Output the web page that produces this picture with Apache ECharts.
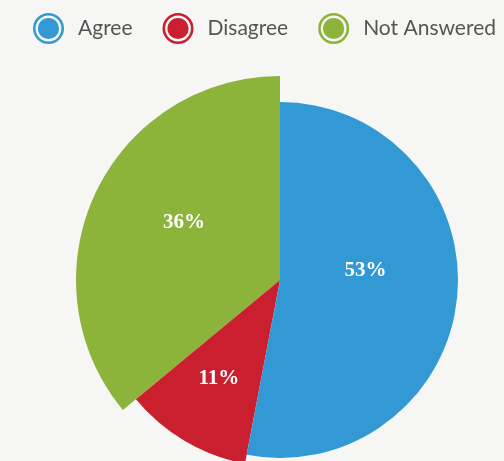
<!DOCTYPE html>
<html>
<head>
<meta charset="utf-8">
<script src="https://cdn.jsdelivr.net/npm/echarts@6/dist/echarts.min.js"></script>
<style>
html,body{margin:0;padding:0;background:#f6f6f4;}
#chart{width:504px;height:461px;}
</style>
</head>
<body>
<div id="chart"></div>
<script>
// Data
const categories = ['Agree', 'Disagree', 'Not Answered'];
const values = [53, 11, 36];

// Styling (not data)
const colors = ['#3399d4', '#c91f2f', '#8cb33a'];
const radii = [178, 187, 204];
const labelOffsets = [[-6, -18], [-12, 16], [-1, -13]];

const ringIcon = 'path://M0,12A12,12 0 1,1 24,12A12,12 0 1,1 0,12Z' +
  'M2,12A10,10 0 1,0 22,12A10,10 0 1,0 2,12Z' +
  'M3.8,12A8.2,8.2 0 1,1 20.2,12A8.2,8.2 0 1,1 3.8,12Z';

const series = categories.map(function (cat, si) {
  return {
    type: 'pie',
    center: [280, 280],
    radius: [0, radii[si]],
    startAngle: 90,
    clockwise: true,
    avoidLabelOverlap: false,
    animation: false,
    z: 2 + (categories.length - si),
    data: categories.map(function (name, i) {
      const own = i === si;
      return {
        name: name,
        value: values[i],
        itemStyle: { color: own ? colors[i] : 'rgba(0,0,0,0)', borderWidth: 0 },
        label: {
          show: own,
          position: 'inside',
          offset: labelOffsets[i],
          formatter: '{c}%',
          color: '#ffffff',
          fontFamily: 'Liberation Serif, serif',
          fontWeight: 'bold',
          fontSize: 21
        },
        labelLine: { show: false },
        emphasis: { disabled: true },
        silent: !own
      };
    })
  };
});

const chart = echarts.init(document.getElementById('chart'));
chart.setOption({
  backgroundColor: '#f6f6f4',
  legend: {
    left: 28,
    top: 8,
    itemWidth: 31,
    itemHeight: 31,
    itemGap: 30,
    icon: ringIcon,
    selectedMode: false,
    textStyle: { color: '#555555', fontSize: 21, fontFamily: 'Lato, sans-serif', padding: [0, 0, 0, 9] },
    data: categories.map(function (c, i) {
      return { name: c, icon: ringIcon, itemStyle: { color: colors[i] } };
    })
  },
  series: series
});
</script>
</body>
</html>
